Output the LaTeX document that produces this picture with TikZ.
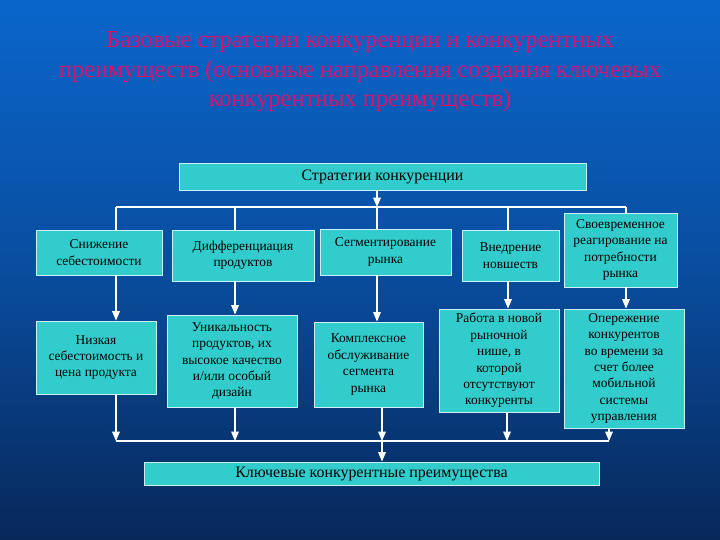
\documentclass[tikz,border=0pt]{standalone}
\usepackage{fontspec}
\setmainfont{Liberation Serif}
\usetikzlibrary{arrows}
\definecolor{bgtop}{RGB}{10,102,204}
\definecolor{bgbot}{RGB}{8,40,90}
\definecolor{boxfill}{RGB}{51,204,204}
\definecolor{titlecol}{RGB}{214,20,110}
\tikzset{%
	box/.style     = {draw=white!80!cyan, line width=1pt, fill=boxfill, rectangle, align=center, inner sep=1pt, font=\fontsize{13.5}{16.5}\selectfont},
	widebox/.style = {box, font=\fontsize{16}{18}\selectfont},
	link/.style    = {draw=white, line width=1.2pt},
	junction/.style= {coordinate}
}

\begin{document}
\begin{tikzpicture}[x=1bp, y=-1bp, >=triangle 45]
	% background
	\useasboundingbox (0,0) rectangle (720,540);
	\shade[top color=bgtop, bottom color=bgbot, middle color=bgtop!60!bgbot] (0,0) rectangle (720,540);

	\draw % title and boxes
	node at (360, 72) [text=titlecol, align=center, font=\fontsize{24.5}{29.5}\selectfont] (title)
		{Базовые стратегии конкуренции и конкурентных\\ преимуществ (основные направления создания ключевых\\ конкурентных преимуществ)}
	node at (382.5, 176.5) [widebox, minimum width=407bp, minimum height=27bp] (strat) {Стратегии конкуренции}
	node at (99, 252.5) [box, minimum width=126bp, minimum height=45bp] (snizh) {Снижение\\ себестоимости}
	node at (243, 255.5) [box, minimum width=142bp, minimum height=51bp] (diff) {Дифференциация\\ продуктов}
	node at (385.5, 252) [box, minimum width=131bp, minimum height=46bp] (segm) {Сегментирование\\ рынка}
	node at (510.5, 255.5) [box, minimum width=97bp, minimum height=51bp] (vnedr) {Внедрение\\ новшеств}
	node at (620.5, 250) [box, minimum width=113bp, minimum height=74bp] (svoev) {Своевременное\\ реагирование на\\ потребности\\ рынка}
	node at (96, 357.5) [box, minimum width=120bp, minimum height=73bp] (nizk) {Низкая\\ себестоимость и\\ цена продукта}
	node at (232, 361) [box, minimum width=130bp, minimum height=92bp] (unik) {Уникальность\\ продуктов, их\\ высокое качество\\ и/или особый\\ дизайн}
	node at (368.5, 364.5) [box, minimum width=109bp, minimum height=85bp] (kompl) {Комплексное\\ обслуживание\\ сегмента\\ рынка}
	node at (499, 360.5) [box, minimum width=120bp, minimum height=103bp] (rabota) {Работа в новой\\ рыночной\\ нише, в\\ которой\\ отсутствуют\\ конкуренты}
	node at (624, 368.5) [box, minimum width=120bp, minimum height=119bp] (operezh) {Опережение\\ конкурентов\\ во времени за\\ счет более\\ мобильной\\ системы\\ управления}
	node at (371.5, 473.5) [widebox, minimum width=455bp, minimum height=23bp] (kluch) {Ключевые конкурентные преимущества}
	;

	% upper bus
	\coordinate (u1) at (116, 207);
	\coordinate (u2) at (235, 207);
	\coordinate (u3) at (377, 207);
	\coordinate (u4) at (508, 207);
	\coordinate (u5) at (626, 207);
	% lower bus
	\coordinate (d1) at (116, 441);
	\coordinate (d2) at (235, 441);
	\coordinate (d3) at (382, 441);
	\coordinate (d4) at (507, 441);
	\coordinate (d5) at (609, 441);

	% Drawing the arrows
	\draw[link, ->, white] (strat.south -| u3) -- (u3);
	\draw[link] (u1) -- (u5);
	\draw[link] (u1) -- (snizh.north -| u1);
	\draw[link] (u2) -- (diff.north -| u2);
	\draw[link] (u3) -- (segm.north -| u3);
	\draw[link] (u4) -- (vnedr.north -| u4);
	\draw[link] (u5) -- (svoev.north -| u5);

	\draw[link, ->, white] (snizh.south -| u1) -- (nizk.north -| u1);
	\draw[link, ->, white] (diff.south -| u2) -- (unik.north -| u2);
	\draw[link, ->, white] (segm.south -| u3) -- (kompl.north -| u3);
	\draw[link, ->, white] (vnedr.south -| u4) -- (rabota.north -| u4);
	\draw[link, ->, white] (svoev.south -| u5) -- (operezh.north -| u5);

	\draw[link, ->, white] (nizk.south -| d1) -- (d1);
	\draw[link, ->, white] (unik.south -| d2) -- (d2);
	\draw[link, ->, white] (kompl.south -| d3) -- (d3);
	\draw[link, ->, white] (rabota.south -| d4) -- (d4);
	\draw[link, ->, white] (operezh.south -| d5) -- (d5);
	\draw[link] (d1) -- (d5);
	\draw[link, ->, white] (d3) -- (kluch.north -| d3);
\end{tikzpicture}
\end{document}
